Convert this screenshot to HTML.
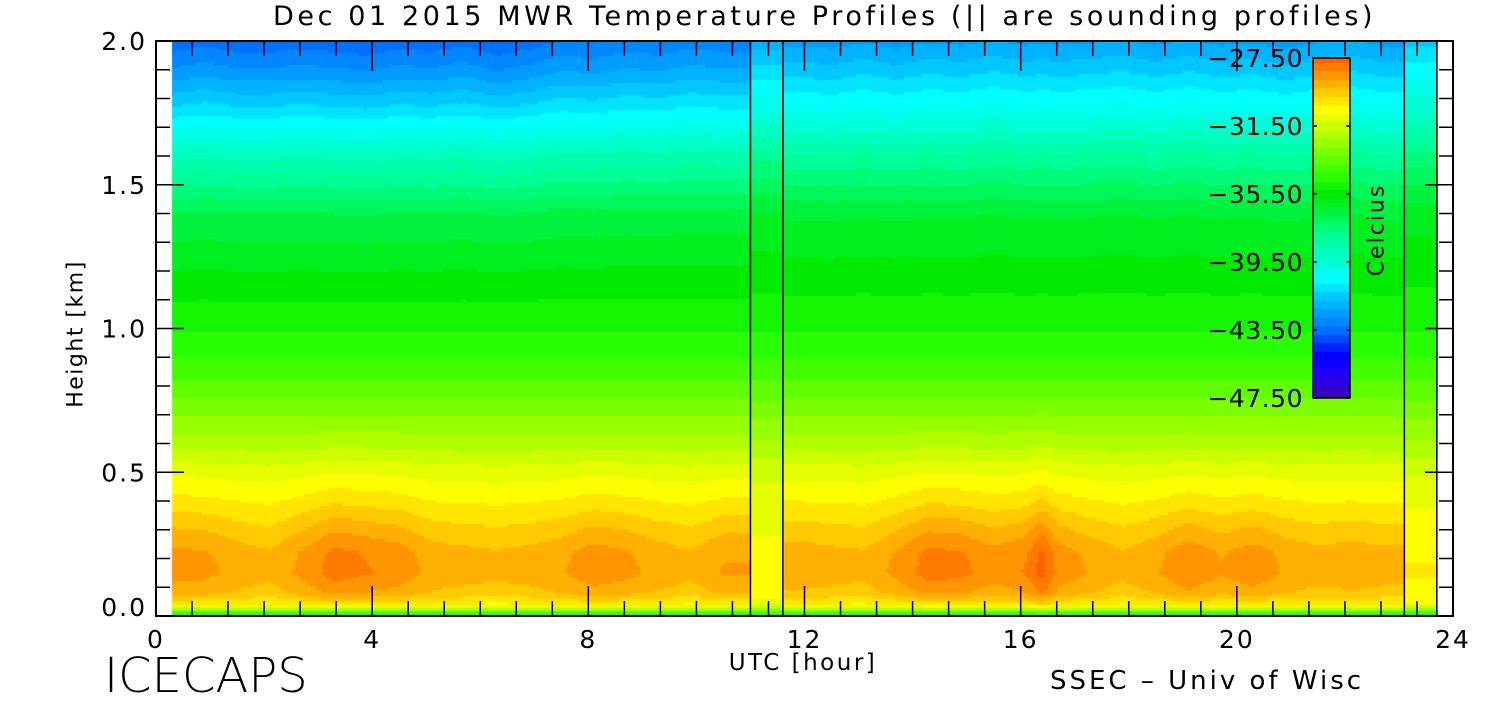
<!DOCTYPE html>
<html><head><meta charset="utf-8">
<style>
html,body{margin:0;padding:0;background:#fff;}
body{width:1500px;height:700px;position:relative;overflow:hidden;font-family:"DejaVu Sans","Liberation Sans",sans-serif;}
.t{position:absolute;color:#000;white-space:nowrap;}
</style></head>
<body>
<canvas id="heat" width="1500" height="700" style="position:absolute;left:0;top:0"></canvas>
<svg id="ov" width="1500" height="700" style="position:absolute;left:0;top:0"></svg>
<div class="t" style="left:273px;width:1080px;text-align:center;top:1px;font-size:27px;letter-spacing:3.6px;">Dec 01 2015 MWR Temperature Profiles (|| are sounding profiles)</div>
<div class="t" style="left:76px;top:334px;font-size:22px;letter-spacing:1.5px;transform:translate(-50%,-50%) rotate(-90deg);">Height [km]</div>
<div class="t" style="left:803px;top:650px;font-size:23px;letter-spacing:2.5px;transform:translateX(-50%);">UTC [hour]</div>
<div class="t" style="left:104px;top:648px;font-size:48px;font-weight:300;letter-spacing:0px;">ICECAPS</div>
<div class="t" style="left:1050px;top:666px;font-size:26px;letter-spacing:3px;">SSEC – Univ of Wisc</div>
<div class="t" style="left:1377px;top:230px;font-size:22px;letter-spacing:2px;transform:translate(-50%,-50%) rotate(-90deg);">Celcius</div>
<script>
// ---- data ----
const times    = [0.3,0.9,1.5,2.1,2.7,3.3,3.9,4.5,5.1,5.7,6.3,6.9,7.5,8.1,8.7,9.3,9.9,10.5,11.3,11.9,12.5,13.1,13.7,14.3,14.9,15.5,16.1,16.4,16.7,17.3,17.9,18.5,19.1,19.7,20.3,20.9,21.5,22.1,22.7,23.4];
const sounding = [0,0,0,0,0,0,0,0,0,0,0,0,0,0,0,0,0,0,1,0,0,0,0,0,0,0,0,0,0,0,0,0,0,0,0,0,0,0,0,1];
const lowAnom  = [0.5,0.4,0.1,-0.1,0.4,1.0,0.8,0.6,0.1,0,-0.1,0,0.2,0.6,0.4,0.1,-0.1,0.3,-1.5,0.1,0,-0.1,0.4,1.0,0.9,0.5,0.8,1.5,0.6,0.2,-0.1,0.2,0.7,0.3,0.6,0.2,0,0.1,0,-1.2];
const highAnom = [-1.0,-0.8,-1.0,-1.0,-0.9,-1.0,-1.1,-0.9,-1.0,-0.8,-1.1,-0.9,-0.6,-0.7,-0.5,-0.6,-0.4,-0.5,0.6,0.2,0.1,0.3,0.1,0.3,0.2,0.4,0.2,0.3,0.2,0.3,0.4,0.2,0.4,0.2,0.3,0.1,0.3,0.4,0.2,1.2];
const heights  = [0,0.015,0.04,0.08,0.15,0.22,0.3,0.4,0.5,0.6,0.7,0.85,1.0,1.2,1.4,1.6,1.75,1.9,2.0];
const baseProf = [-37.5,-33,-30.3,-29.4,-29.0,-29.1,-29.6,-30.3,-31.0,-32.0,-32.8,-34.0,-34.8,-35.6,-36.4,-38.3,-40.2,-41.7,-42.6];
const lowW     = [0,0.1,0.4,0.8,1,1,0.8,0.45,0.25,0.12,0.05,0,0,0,0,0,0,0,0];
const highW    = [0,0,0,0,0,0,0,0,0,0,0,0,0,0.15,0.35,0.6,0.8,1,1];
const cbTicks  = [-47.5,-43.5,-39.5,-35.5,-31.5,-27.5];
const xTicks   = [0,4,8,12,16,20,24];
const yTicks   = [0.0,0.5,1.0,1.5,2.0];

// ---- axes ----
const X0=156,X1=1453,Y0=616,Y1=41;
const xs=t=>X0+(X1-X0)*t/24;
const ys=h=>Y0-(Y0-Y1)*h/2;
const CB={x0:1313,x1:1350,y0:398,y1:58,vmin:-47.5,vmax:-27.5};
const cv=v=>CB.y0-(CB.y0-CB.y1)*(v-CB.vmin)/(CB.vmax-CB.vmin);

const stops=[[-47.5,[64,0,176]],[-46,[32,0,255]],[-45,[0,0,255]],[-43.5,[0,112,255]],[-41.5,[0,200,255]],[-40.5,[0,255,255]],[-38,[0,255,150]],[-35.5,[0,235,0]],[-34.5,[40,255,0]],[-32.5,[150,255,0]],[-30.5,[255,255,0]],[-29,[255,176,0]],[-27.5,[255,96,0]]];
function color(v){
  v=Math.round(v*2)/2;
  if(v<=stops[0][0])return stops[0][1];
  for(let i=1;i<stops.length;i++){if(v<=stops[i][0]){const a=stops[i-1],b=stops[i],f=(v-a[0])/(b[0]-a[0]);return a[1].map((c,k)=>Math.round(c+(b[1][k]-c)*f));}}
  return stops[stops.length-1][1];
}
function profVal(ci,h){
  let j=0;while(j<heights.length-2&&h>heights[j+1])j++;
  const f=Math.max(0,Math.min(1,(h-heights[j])/(heights[j+1]-heights[j])));
  const g=a=>a[j]+(a[j+1]-a[j])*f;
  return g(baseProf)+g(lowW)*lowAnom[ci]+g(highW)*highAnom[ci];
}
const n=times.length,L=[],R=[];
for(let i=0;i<n;i++){L[i]=i==0?times[0]:(sounding[i]?times[i]-0.3:R[i-1]);R[i]=sounding[i]?times[i]+0.3:(i==n-1?times[i]:(sounding[i+1]?times[i+1]-0.3:(times[i]+times[i+1])/2));}
const ctx=document.getElementById('heat').getContext('2d');
const step=3;
for(let px=Math.round(xs(times[0]));px<Math.round(xs(23.7));px+=step){
  const t=(px+step/2-X0)*24/(X1-X0);
  let ci=0;for(let i=0;i<n;i++){if(t>=L[i]&&t<R[i]+1e-9)ci=i;}
  for(let py=Y1;py<Y0;py+=step){
    const h=(Y0-(py+step/2))*2/(Y0-Y1);
    let v;
    if(sounding[ci]) v=profVal(ci,h);
    else{
      let a=ci,b=ci;
      if(t<times[ci]){a=ci-1;}else{b=ci+1;}
      if(a<0||b>=n||sounding[a]||sounding[b]) v=profVal(ci,h);
      else{const f=(t-times[a])/(times[b]-times[a]);v=profVal(a,h)*(1-f)+profVal(b,h)*f;}
    }
    const c=color(v);ctx.fillStyle=`rgb(${c[0]},${c[1]},${c[2]})`;
    ctx.fillRect(px,py,step,Math.min(step,Y0-py));
  }
}
for(let py=CB.y1;py<CB.y0;py++){
  const v=CB.vmax-(py-CB.y1)*(CB.vmax-CB.vmin)/(CB.y0-CB.y1);
  const c=color(v);ctx.fillStyle=`rgb(${c[0]},${c[1]},${c[2]})`;ctx.fillRect(CB.x0,py,CB.x1-CB.x0,1);
}
const svg=document.getElementById('ov'),NS='http://www.w3.org/2000/svg';
function mk(tag,attrs,name){const e=document.createElementNS(NS,tag);for(const k in attrs)e.setAttribute(k,attrs[k]);svg.appendChild(e);return e;}
function ln(x1,y1,x2,y2,name){return mk('line',{x1,y1,x2,y2,stroke:'#000','stroke-width':1.5},name);}
mk('rect',{x:X0,y:Y1,width:X1-X0,height:Y0-Y1,fill:'none',stroke:'#000','stroke-width':2},'plot-frame');
times.forEach((t,i)=>{if(sounding[i]){ln(xs(t-0.3),Y1,xs(t-0.3),Y0,'sounding-line-left');ln(xs(t+0.3),Y1,xs(t+0.3),Y0,'sounding-line-right');}});
for(let k=0;k<=36;k++){const t=k*2/3,x=xs(t),len=(k%6==0)?30:15;ln(x,Y0,x,Y0-len,'x-tick');ln(x,Y1,x,Y1+len,'x-tick-top');}
const F='DejaVu Sans, Liberation Sans, sans-serif';
xTicks.forEach(v=>{const e=mk('text',{x:xs(v),y:648,'text-anchor':'middle','font-size':25,'letter-spacing':2,'font-family':F},'x-tick-label');e.textContent=String(v);});
for(let k=0;k<=20;k++){const y=ys(k*0.1),len=(k%5==0)?28:14;ln(X0,y,X0+len,y,'y-tick');ln(X1,y,X1-len,y,'y-tick-right');}
yTicks.forEach(v=>{const e=mk('text',{x:147,y:Math.min(ys(v)+9,616),'text-anchor':'end','font-size':25,'letter-spacing':2,'font-family':F},'y-tick-label');e.textContent=v.toFixed(1);});
mk('rect',{x:CB.x0,y:CB.y1,width:CB.x1-CB.x0,height:CB.y0-CB.y1,fill:'none',stroke:'#000','stroke-width':1.5},'colorbar');
cbTicks.forEach(v=>{const y=cv(v);ln(CB.x0,y,CB.x0+4,y,'colorbar-tick');ln(CB.x1,y,CB.x1-4,y,'colorbar-tick');
  const e=mk('text',{x:1303,y:y+9,'text-anchor':'end','font-size':25,'letter-spacing':0.5,'font-family':F},'colorbar-tick-label');e.textContent=(v<0?'\u2212':'')+Math.abs(v).toFixed(2);});
</script>
</body></html>
